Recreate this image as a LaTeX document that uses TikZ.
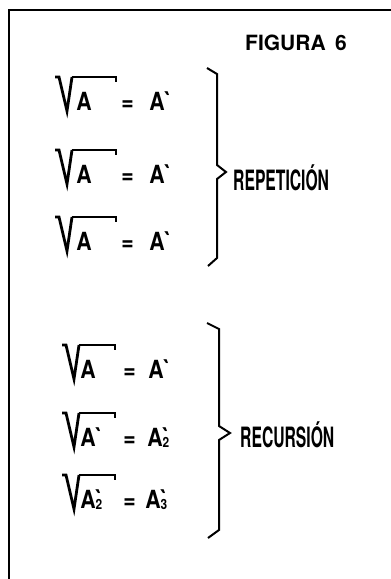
\documentclass[tikz,border=0pt]{standalone}
\usepackage{fontspec}
\setmainfont{TeX Gyre Heros}
\usetikzlibrary{positioning}

\newcommand{\Ap}{A\textasciigrave}
\newcommand{\Asub}[1]{A\rlap{\textasciigrave}\raisebox{-0.5pt}{\fontsize{7}{7}\selectfont#1}}

\begin{document}
\begin{tikzpicture}[
  x=0.5pt,y=-0.5pt,
  frame/.style={line width=1pt},
  term/.style={font=\bfseries\fontsize{12.5}{12.5}\selectfont,xscale=0.85,
               inner sep=0pt,anchor=base west},
  tag/.style={font=\bfseries\fontsize{14}{14}\selectfont,xscale=0.56,
              inner sep=0pt,anchor=base west},
  rad/.style={line width=1.4pt,line join=miter},
  bar/.style={line width=0.8pt},
  brace/.style={line width=1pt}
]
  \useasboundingbox (0,0) rectangle (391,579);
  \draw[frame] (391,10) -- (9,10) -- (9,579);

  \node[font=\bfseries\fontsize{10.5}{10.5}\selectfont,anchor=base] (fig) at (296,50)
    {FIGURA\hspace{0.45em}6};

  % rows: radical start, inner term, equals, result
  \foreach \i/\y/\xr/\xb/\xa/\xe/\xo/\lhs/\rhs in {
    1/110/55/116/76/121/149/A/\Ap,
    2/183/55/116/76/121/149/A/\Ap,
    3/250/55/116/76/121/149/A/\Ap,
    4/378/62/115/80/123/148/A/\Ap,
    5/446/62/115/80/123/147/\Ap/{\Asub{2}},
    6/508/62/115/80/123/145/{\Asub{2}}/{\Asub{3}}}{
    \draw[rad] (\xr,\y-33) -- (\xr+4,\y-33) -- (\xr+12,\y+1) -- (\xr+17,\y-33);
    \draw[bar] (\xr+17,\y-33) -- (\xb,\y-33) -- (\xb,\y-28);
    \node[term] (in\i) at (\xa,\y) {\lhs};
    \node[term] (eq\i) at (\xe,\y) {=};
    \node[term] (out\i) at (\xo,\y) {\rhs};
  }

  % braces
  \draw[brace] (207,68) -- (217,74) -- (217,165) -- (226,172) -- (217,179)
    -- (217,258) -- (208,266);
  \draw[brace] (207,323) -- (219,329) -- (219,426) -- (230,433) -- (219,440)
    -- (219,530) -- (208,538);

  \node[tag] (rep) at (233,190) {REPETICIÓN};
  \node[tag] (rec) at (240,447) {RECURSIÓN};
\end{tikzpicture}
\end{document}
